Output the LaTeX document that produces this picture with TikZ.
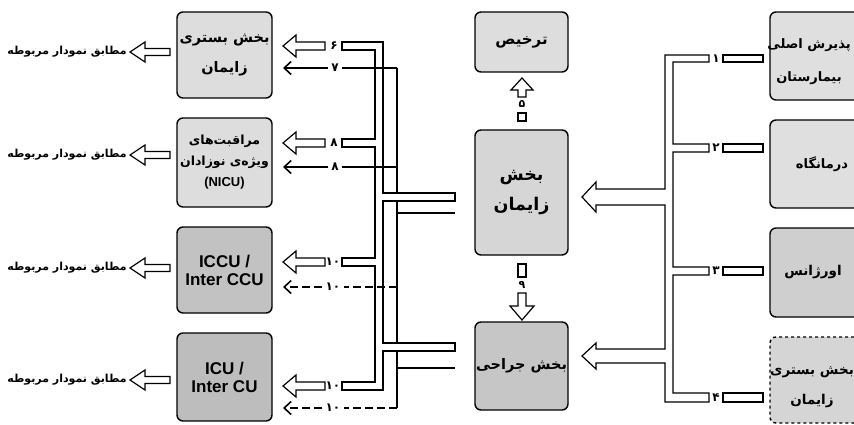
\documentclass[tikz,border=0pt]{standalone}
\usepackage{fontspec}
\usetikzlibrary{arrows.meta}
\TeXXeTstate=1
\newfontfamily\fa[Script=Arabic]{DejaVu Sans}
\newfontfamily\lat{Liberation Sans}
\newcommand\RL[1]{\beginR #1\endR}
\newcommand\pfont[2]{\fa\bfseries\fontsize{#1}{#2}\selectfont}
\newcommand\lfont[2]{\lat\bfseries\fontsize{#1}{#2}\selectfont}
\newcommand\hollowL[6]{%
  \draw[pipe] (#1,#2) -- (#3,{#2-#6}) -- (#3,{#2-#5}) -- (#4,{#2-#5}) -- (#4,{#2+#5}) -- (#3,{#2+#5}) -- (#3,{#2+#6}) -- cycle;}
\begin{document}
\begin{tikzpicture}[x=1pt,y=-1pt,
  box/.style={draw, line width=1.4pt, rounded corners=6pt, inner sep=0pt, align=center},
  btext/.style={inner sep=0pt, align=center},
  pipe/.style={draw, line width=1.2pt, fill=white, line join=miter},
  bus/.style={line width=2.2pt},
  thinline/.style={line width=1.6pt},
  thinarr/.style={line width=1.6pt, -{Straight Barb[length=7pt,width=13pt]}},
  dashline/.style={line width=1.6pt, dash pattern=on 8pt off 4pt},
  num/.style={font=\pfont{12}{12}, inner sep=3pt},
  note/.style={font=\pfont{11}{11}, inner sep=0pt},
]
\useasboundingbox (0,0) rectangle (854,425);
\clip (0,0) rectangle (854,425);
\fill[white] (0,0) rectangle (854,425);

% ---------- boxes ----------
\node[box, fill=gray!27, minimum width=95pt, minimum height=86pt, font=\pfont{14.5}{30}] (L1) at (224.5,55) {\RL{بخش بستری}\\\RL{زایمان}};
\node[box, fill=gray!27, minimum width=95pt, minimum height=89pt, font=\pfont{12.5}{21}] (L2) at (224.5,162.5) {\RL{مراقبت‌های}\\\RL{ویژه‌ی نوزادان}\\{\lfont{13}{16}(NICU)}};
\node[box, fill=gray!48, minimum width=95pt, minimum height=86pt, font=\lfont{17}{18}] (L3) at (224.5,270) {ICCU /\\Inter CCU};
\node[box, fill=gray!52, minimum width=95pt, minimum height=88pt, font=\lfont{17}{18}] (L4) at (224.5,377) {ICU /\\Inter CU};

\node[box, fill=gray!27, minimum width=93pt, minimum height=60pt, font=\pfont{15}{20}] (T) at (521.5,42) {\RL{ترخیص}};
\node[box, fill=gray!32, minimum width=93pt, minimum height=125pt, font=\pfont{17.5}{30}] (Z) at (521.5,192.5) {\RL{بخش}\\\RL{زایمان}};
\node[box, fill=gray!45, minimum width=93pt, minimum height=88pt, font=\pfont{14.5}{20}] (J) at (521.5,366) {\RL{بخش جراحی}};

\node[box, fill=gray!25, minimum width=96pt, minimum height=88pt] (R1) at (818,56) {};
\node[btext, font=\pfont{13}{33}] (R1t) at (809,62) {\RL{پذیرش اصلی}\\\RL{بیمارستان}};
\node[box, fill=gray!25, minimum width=96pt, minimum height=88pt] (R2) at (818,164) {};
\node[btext, font=\pfont{13}{20}] (R2t) at (822,164) {\RL{درمانگاه}};
\node[box, fill=gray!38, minimum width=96pt, minimum height=89pt] (R3) at (818,272.5) {};
\node[btext, font=\pfont{13.5}{20}] (R3t) at (813,272.5) {\RL{اورژانس}};
\node[box, fill=gray!33, dashed, minimum width=96pt, minimum height=86pt] (R4) at (818,380) {};
\node[btext, font=\pfont{13.5}{30}] (R4t) at (812,387) {\RL{بخش بستری}\\\RL{زایمان}};

% ---------- notes on the far left ----------
\node[note] (m1) at (67,52) {\RL{مطابق نمودار مربوطه}};
\node[note] (m2) at (67,155) {\RL{مطابق نمودار مربوطه}};
\node[note] (m3) at (67,268) {\RL{مطابق نمودار مربوطه}};
\node[note] (m4) at (67,380) {\RL{مطابق نمودار مربوطه}};
\hollowL{130}{52}{145}{170}{3.5}{10}
\hollowL{130}{155}{145}{170}{3.5}{10}
\hollowL{130}{268}{145}{170}{3.5}{10}
\hollowL{130}{380}{145}{170}{3.5}{10}

% ---------- left bus (thick line) ----------
\draw[bus] (397,68) -- (397,408);
\draw[bus] (397,213) -- (455,213);
\draw[bus] (397,368) -- (455,368);

% ---------- left pipe network ----------
\draw[pipe] (342,50) -- (375,50) -- (375,139) -- (342,139) -- (342,147) -- (375,147)
  -- (375,258) -- (342,258) -- (342,266) -- (375,266) -- (375,382) -- (342,382)
  -- (342,390) -- (383,390) -- (383,351) -- (455,351) -- (455,343) -- (383,343)
  -- (383,201) -- (455,201) -- (455,193) -- (383,193) -- (383,42) -- (342,42) -- cycle;
\hollowL{283}{46}{296}{325}{4}{11}
\hollowL{283}{143}{296}{325}{4}{11}
\hollowL{283}{262}{296}{325}{4}{11}
\hollowL{283}{386}{296}{325}{4}{11}
\node[num] (p6) at (334,46) {۶};
\node[num] (p8) at (334,143) {۸};
\node[num] (p10a) at (333,262) {۱۰};
\node[num] (p10b) at (333,386) {۱۰};

% ---------- thin arrows ----------
\node[num] (n7) at (335,68) {۷};
\node[num] (n8) at (335,167) {۸};
\node[num] (n10a) at (333,287) {۱۰};
\node[num] (n10b) at (333,408) {۱۰};
\coordinate (b7) at (397,68);
\coordinate (b8) at (397,167);
\coordinate (b10a) at (397,287);
\coordinate (b10b) at (397,408);
\draw[thinline] (b7) -- (n7);
\draw[thinarr] (n7) -- (283,68);
\draw[thinline] (b8) -- (n8);
\draw[thinarr] (n8) -- (283,167);
\draw[dashline] (b10a) -- (n10a);
\draw[dashline, -{Straight Barb[length=7pt,width=13pt]}] (n10a) -- (283,287);
\draw[dashline] (b10b) -- (n10b);
\draw[dashline, -{Straight Barb[length=7pt,width=13pt]}] (n10b) -- (283,408);

% ---------- vertical arrows ----------
\draw[pipe] (522,78) -- (533,90) -- (526,90) -- (526,97) -- (518,97) -- (518,90) -- (511,90) -- cycle;
\node[num, font=\pfont{11}{11}] (p5) at (522,104) {۵};
\draw[pipe] (518,113) rectangle (526,121);
\draw[pipe] (518,264) rectangle (526,277);
\node[num, font=\pfont{11}{11}] (p9) at (522,285) {۹};
\draw[pipe] (518,293) -- (526,293) -- (526,306) -- (534,306) -- (522,320) -- (510,306) -- (518,306) -- cycle;

% ---------- right pipe network ----------
\draw[pipe] (709,62) -- (673,62) -- (673,144) -- (709,144) -- (709,152) -- (673,152)
  -- (673,267) -- (709,267) -- (709,275) -- (673,275) -- (673,393) -- (709,393)
  -- (709,402) -- (665,402) -- (665,363) -- (596,363) -- (596,369) -- (582,356)
  -- (596,343) -- (596,349) -- (665,349) -- (665,205) -- (596,205) -- (596,212)
  -- (582,197) -- (596,182) -- (596,189) -- (665,189) -- (665,55) -- (709,55) -- cycle;
\draw[pipe] (723,55) rectangle (763,62);
\draw[pipe] (723,144) rectangle (763,152);
\draw[pipe] (723,267) rectangle (763,275);
\draw[pipe] (723,393) rectangle (763,402);
\node[num] (p1) at (716,58.5) {۱};
\node[num] (p2) at (716,148) {۲};
\node[num] (p3) at (716,271) {۳};
\node[num] (p4) at (716,397.5) {۴};
\end{tikzpicture}
\end{document}
